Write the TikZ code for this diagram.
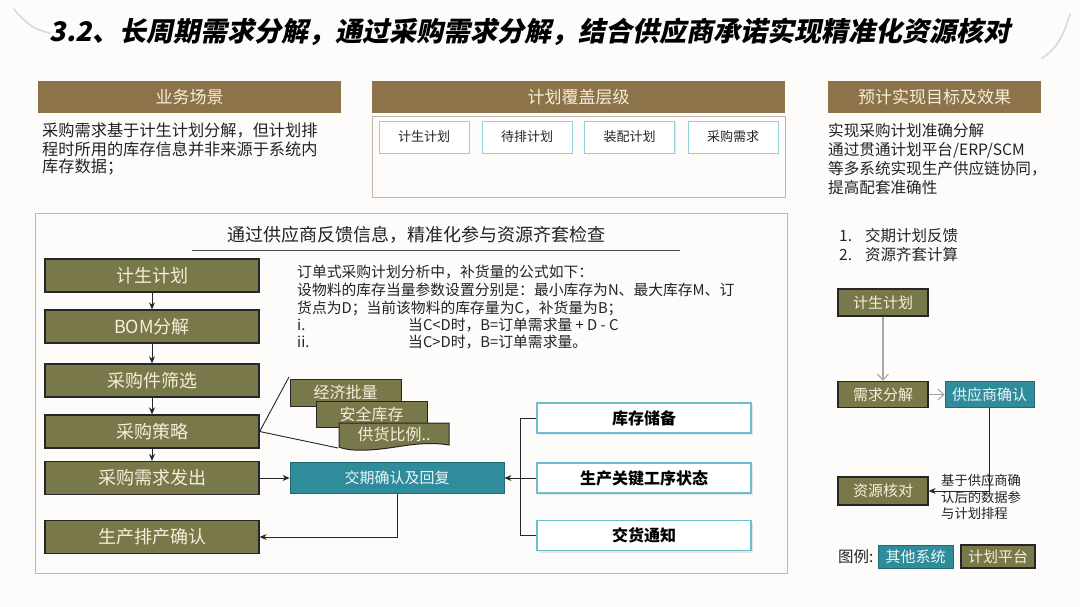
\documentclass[tikz,border=0pt]{standalone}
\usepackage{fontspec}
\setmainfont{Noto Sans CJK SC}
\newfontfamily\titlefont[FakeSlant=0.2]{Noto Sans CJK SC}
\usetikzlibrary{arrows.meta,shadows}
\definecolor{bgc}{RGB}{253,252,251}
\definecolor{hdr}{RGB}{140,115,73}
\definecolor{cream}{RGB}{246,238,218}
\definecolor{olive}{RGB}{120,120,74}
\definecolor{tealc}{RGB}{47,140,155}
\definecolor{lblue}{RGB}{110,190,208}
\definecolor{txt}{RGB}{35,35,35}
\definecolor{framec}{RGB}{190,182,172}
\tikzset{
  hdrbar/.style={fill=hdr, text=cream, font=\fontsize{17}{20}\selectfont, inner sep=0pt, minimum height=32pt},
  olivebox/.style={fill=olive, draw=black!85, line width=1.3pt, text=cream, inner sep=0pt},
  tealbox/.style={fill=tealc, draw=tealc!75!black, line width=0.8pt, text=white!92!tealc, inner sep=0pt},
  levelbox/.style={fill=white, draw=lblue!75, line width=0.8pt, inner sep=0pt, minimum width=90pt, minimum height=32pt, font=\fontsize{13}{15}\selectfont, text=txt, drop shadow={shadow xshift=1.2pt, shadow yshift=-1.2pt, fill=gray!35}},
  srcbox/.style={fill=white, draw=lblue, line width=1.8pt, inner sep=0pt, minimum width=214pt, minimum height=30pt, font=\bfseries\fontsize{16}{19}\selectfont, text=black, drop shadow={shadow xshift=2pt, shadow yshift=-2pt, fill=gray!35}},
  plain/.style={inner sep=0pt, text=txt, anchor=west},
  arr/.style={-{Stealth[length=7pt,width=6pt]}, line width=0.9pt, draw=black!85},
  garr/.style={-{Straight Barb[length=6pt,width=11pt]}, line width=1.1pt, draw=gray!70},
}
\begin{document}
\begin{tikzpicture}[x=1pt,y=-1pt]
\fill[bgc] (0,0) rectangle (1080,607);
\useasboundingbox (0,0) rectangle (1080,607);
% decorative swooshes
\draw[gray!30, line width=1.6pt, line cap=round] (14,9) .. controls (24,22) and (34,30) .. (50,33);
\draw[gray!30, line width=1.6pt, line cap=round] (1042,58) .. controls (1056,50) and (1064,35) .. (1070,14);
% title
\node[font=\titlefont\bfseries\fontsize{27}{30}\selectfont, text=black, inner sep=0pt] (title) at (530,32) {3.2、长周期需求分解，通过采购需求分解，结合供应商承诺实现精准化资源核对};
% headers
\node[hdrbar, minimum width=303pt] (h1) at (189.5,97) {业务场景};
\node[hdrbar, minimum width=413pt] (h2) at (578.5,97) {计划覆盖层级};
\node[hdrbar, minimum width=213pt] (h3) at (934.5,97) {预计实现目标及效果};
% left description
\begin{scope}[every node/.style={plain, font=\fontsize{16.2}{19}\selectfont}]
\node (d1) at (42,131) {采购需求基于计生计划分解，但计划排};
\node (d2) at (42,149) {程时所用的库存信息并非来源于系统内};
\node (d3) at (42,167) {库存数据；};
\end{scope}
% level frame
\node[draw=framec, line width=0.9pt, minimum width=413pt, minimum height=81pt, inner sep=0pt] (lvframe) at (578.5,156.5) {};
\node[levelbox] (lv1) at (424,137) {计生计划};
\node[levelbox] (lv2) at (527,137) {待排计划};
\node[levelbox] (lv3) at (629.5,137) {装配计划};
\node[levelbox] (lv4) at (733,137) {采购需求};
% right description
\begin{scope}[every node/.style={plain, font=\fontsize{15.6}{19}\selectfont}]
\node (e1) at (828,131) {实现采购计划准确分解};
\node (e2) at (828,150) {通过贯通计划平台/ERP/SCM};
\node (e3) at (828,169) {等多系统实现生产供应链协同，};
\node (e4) at (828,188) {提高配套准确性};
\end{scope}
% main frame
\node[draw=framec, line width=1pt, minimum width=752pt, minimum height=359pt, inner sep=0pt] (main) at (411,393.5) {};
\node[inner sep=0pt, text=txt, font=\fontsize{18}{21}\selectfont] (mtitle) at (416,235) {通过供应商反馈信息，精准化参与资源齐套检查};
\coordinate (ulA) at (192,250);
\coordinate (ulB) at (680,250);
\draw[gray!60!black, line width=1pt] (ulA) -- (ulB);
% left flow
\begin{scope}[every node/.style={olivebox, minimum width=214pt, minimum height=33pt, font=\fontsize{18}{21}\selectfont}]
\node (b1) at (152,275.5) {计生计划};
\node (b2) at (152,326.5) {BOM分解};
\node (b3) at (152,380.5) {采购件筛选};
\node (b4) at (152,431.5) {采购策略};
\node (b5) at (152,478) {采购需求发出};
\node (b6) at (152,537) {生产排产确认};
\end{scope}
\draw[arr] (b1.south) -- (b2.north);
\draw[arr] (b2.south) -- (b3.north);
\draw[arr] (b3.south) -- (b4.north);
\draw[arr] (b4.south) -- (b5.north);
% formula text
\begin{scope}[every node/.style={plain, font=\fontsize{14.8}{18}\selectfont}]
\node (f1) at (297,272) {订单式采购计划分析中，补货量的公式如下：};
\node (f2) at (297,290) {设物料的库存当量参数设置分别是：最小库存为N、最大库存M、订};
\node (f3) at (297,308) {货点为D；当前该物料的库存量为C，补货量为B；};
\node (f4a) at (297,325) {i.};
\node (f4b) at (408,325) {当C<D时，B=订单需求量 + D - C};
\node (f5a) at (297,342) {ii.};
\node (f5b) at (408,342) {当C>D时，B=订单需求量。};
\end{scope}
% strategy tags
\coordinate (tgend) at (338,448);
\draw[black!85, line width=0.9pt] (b4.east) -- (289,377);
\draw[black!85, line width=0.9pt] (b4.east) -- (tgend);
\node[olivebox, line width=1pt, minimum width=111pt, minimum height=27pt, font=\fontsize{16}{19}\selectfont] (tg1) at (345.5,392.5) {经济批量};
\node[olivebox, line width=1pt, minimum width=111pt, minimum height=26pt, font=\fontsize{16}{19}\selectfont] (tg2) at (371.5,414) {安全库存};
\draw[fill=olive, draw=black!85, line width=1pt] (339,423) -- (449,423) -- (449,445) .. controls (425,441) and (405,446) .. (385,448.5) .. controls (365,451) and (348,451) .. (339,447) -- cycle;
\node[inner sep=0pt, text=cream, font=\fontsize{16}{19}\selectfont] (tg3) at (394,434) {供货比例..};
% delivery confirmation
\node[tealbox, minimum width=214pt, minimum height=31pt, font=\fontsize{15}{18}\selectfont] (jq) at (397,478) {交期确认及回复};
\draw[arr] (b5.east) -- (jq.west);
\draw[arr] (jq.south) |- (b6.east);
% source boxes
\node[srcbox] (kc) at (644,418) {库存储备};
\node[srcbox] (sc) at (644,478) {生产关键工序状态};
\node[srcbox] (jh) at (644,535.5) {交货通知};
\draw[black!85, line width=0.9pt] (kc.west) -- ++(-16,0) |- (jh.west);
\draw[arr] (sc.west) -- (jq.east);
% right panel list
\begin{scope}[every node/.style={plain, font=\fontsize{15.5}{18}\selectfont}]
\node (n1) at (839,236) {1.};
\node (t1) at (865,236) {交期计划反馈};
\node (n2) at (839,255) {2.};
\node (t2) at (865,255) {资源齐套计算};
\end{scope}
% right panel flow
\node[olivebox, minimum width=90pt, minimum height=27pt, font=\fontsize{15}{18}\selectfont] (r1) at (883,302.5) {计生计划};
\node[olivebox, minimum width=90pt, minimum height=26pt, font=\fontsize{15}{18}\selectfont] (r2) at (883,394.5) {需求分解};
\node[tealbox, minimum width=89pt, minimum height=26pt, font=\fontsize{15}{18}\selectfont] (r3) at (989.5,394.5) {供应商确认};
\node[olivebox, minimum width=90pt, minimum height=28pt, font=\fontsize{15}{18}\selectfont] (r4) at (883,491) {资源核对};
\draw[garr] (r1.south) -- (r2.north);
\draw[garr] (r2.east) -- (r3.west);
\draw[arr] (r3.south) |- (r4.east);
\node[plain, align=left, font=\fontsize{13.3}{16.5}\selectfont] (lbl) at (941,497) {基于供应商确\\认后的数据参\\与计划排程};
% legend
\node[plain, font=\fontsize{15.5}{18}\selectfont] (lgt) at (838,557) {图例:};
\node[tealbox, minimum width=75pt, minimum height=23pt, font=\fontsize{15}{18}\selectfont] (lg1) at (915.5,556.5) {其他系统};
\node[olivebox, minimum width=74pt, minimum height=23pt, font=\fontsize{15}{18}\selectfont] (lg2) at (998,556.5) {计划平台};
\end{tikzpicture}
\end{document}
